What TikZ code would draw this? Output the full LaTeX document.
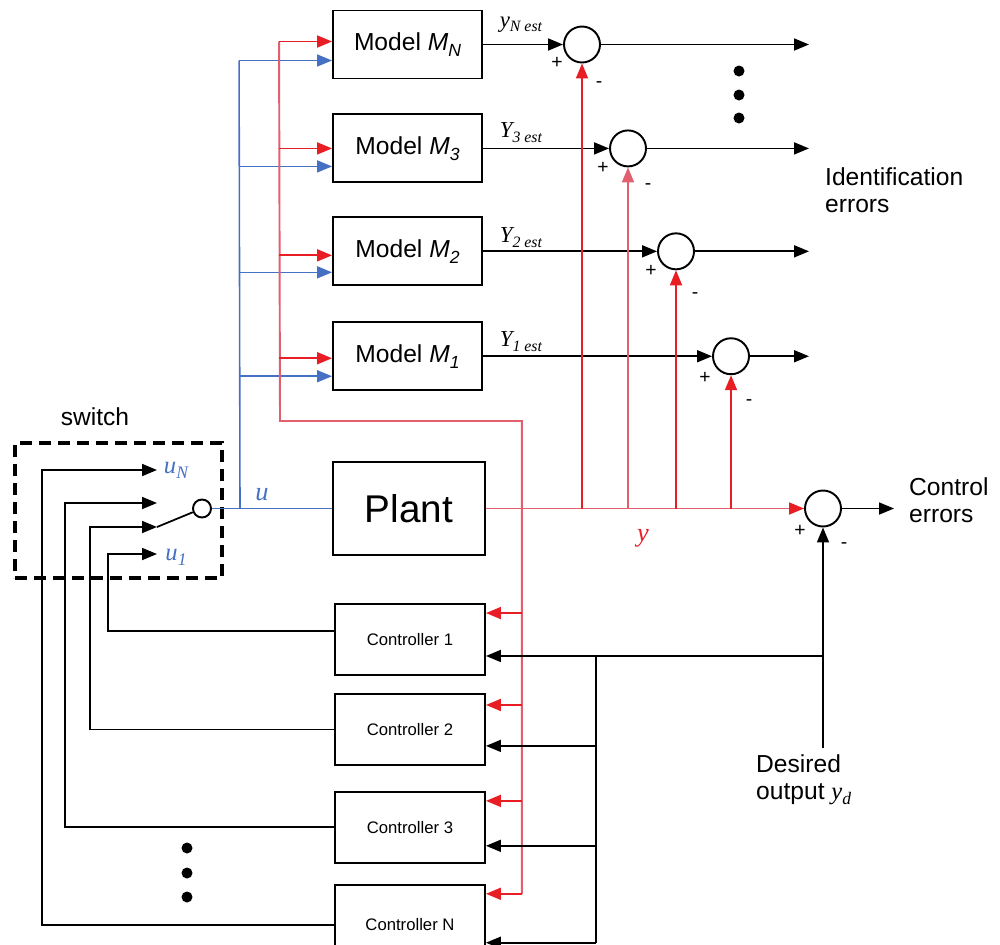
\documentclass[tikz,border=0pt]{standalone}
\usepackage{fontspec}
\setmainfont{Liberation Sans}
\newfontfamily\seriffont{Liberation Serif}
\usepackage{tikz}
\usetikzlibrary{arrows.meta,positioning,calc}
\definecolor{sigred}{RGB}{232,30,36}
\definecolor{sigpink}{RGB}{226,96,110}
\definecolor{sigblue}{RGB}{70,112,196}
\newcommand{\modsub}[2]{\textit{#1}\raisebox{-0.45ex}{\fontsize{10}{10}\selectfont\itshape #2}}
\newcommand{\estsub}[2]{{\seriffont\itshape #1\raisebox{-0.45ex}{\fontsize{9}{9}\selectfont #2 est}}}
\newcommand{\sigsub}[2]{{\seriffont\itshape #1\raisebox{-0.45ex}{\fontsize{10}{10}\selectfont #2}}}

\begin{document}
\begin{tikzpicture}[
            x=0.02cm, y=-0.02cm,
            modelbox/.style={rectangle, draw, line width=1.1pt, minimum width=2.98cm,
                        minimum height=1.36cm, font=\fontsize{14}{16}\selectfont},
            ctrlbox/.style={rectangle, draw, line width=1.1pt, minimum width=3cm,
                        minimum height=1.42cm, font=\fontsize{9.5}{11}\selectfont},
            sumnode/.style={circle, draw, line width=1.1pt, minimum size=0.72cm, inner sep=0pt},
            arrow/.style={-{Triangle[length=0.3cm, width=0.24cm]}, line width=1pt},
            redarrow/.style={arrow, sigred},
            bluearrow/.style={arrow, sigblue, line width=0.9pt},
            redline/.style={sigpink, line width=1.1pt},
            pm/.style={inner sep=0pt, font=\fontsize{11}{12}\selectfont},
            lbl/.style={align=left, font=\fontsize{14}{15.5}\selectfont}
        ]
            \clip (0,0) rectangle (1000,944);

            % Models
            \node[modelbox] (mN) at (407.5,44.5) {Model \modsub{M}{N}};
            \node[modelbox, below=0.68cm of mN] (m3) {Model \modsub{M}{3}};
            \node[modelbox, below=0.66cm of m3] (m2) {Model \modsub{M}{2}};
            \node[modelbox, below=0.7cm of m2] (m1) {Model \modsub{M}{1}};

            % Plant
            \node[modelbox, minimum width=3.04cm, minimum height=1.86cm,
                  font=\fontsize{22}{24}\selectfont] (plant) at (409,508.5) {Plant};

            % Controllers
            \node[ctrlbox] (c1) at (410,639.5) {Controller 1};
            \node[ctrlbox, below=0.34cm of c1] (c2) {Controller 2};
            \node[ctrlbox, below=0.5cm of c2] (c3) {Controller 3};
            \node[ctrlbox, below=0.4cm of c3, minimum height=1.6cm] (cN) {Controller N};

            % Summing junctions
            \node[sumnode] (sN) at (582,0 |- mN) {};
            \node[sumnode] (s3) at (628,0 |- m3) {};
            \node[sumnode] (s2) at (676,0 |- m2) {};
            \node[sumnode] (s1) at (731,0 |- m1) {};
            \node[sumnode] (sc) at (823,0 |- plant) {};

            % Switch
            \node[draw, line width=2.6pt, dash pattern=on 2.4mm off 1.4mm,
                  minimum width=4.14cm, minimum height=2.7cm] (swbox) at (118.5,510.5) {};
            \node[lbl] (swlabel) at (95,417) {switch};
            \node[circle, draw, line width=1.1pt, minimum size=0.36cm, inner sep=0pt] (swc) at (202,0 |- plant) {};
            \coordinate (kN) at (157,470);
            \coordinate (k3) at (157,503);
            \coordinate (k2) at (157,527);
            \coordinate (k1) at (157,554);
            \draw[line width=1pt] (k2) -- (swc.202);
            \node[sigblue, font=\fontsize{14}{15}\selectfont] (uNlbl) at (176,470) {\sigsub{u}{N}};
            \node[sigblue, font=\fontsize{14}{15}\selectfont] (u1lbl) at (176,557) {\sigsub{u}{1}};

            % Texts
            \node[lbl, anchor=west] (iderr) at (819,190) {Identification\\errors};
            \node[lbl, anchor=west] (cerr) at (903,500) {Control\\errors};
            \node[lbl, anchor=north west] (ydtxt) at (750,748) {Desired\\output \sigsub{y}{d}};
            \node[sigblue, font=\fontsize{15}{16}\selectfont] (ulbl) at (262,495) {\seriffont\itshape u};
            \node[sigred, font=\fontsize{15}{16}\selectfont] (ylbl) at (643,538) {\seriffont\itshape y};
            \node[font=\fontsize{13}{14}\selectfont] (lN) at ($(mN.east)+(38,-20)$) {\estsub{y}{N}};
            \node[font=\fontsize{13}{14}\selectfont] (l3) at ($(m3.east)+(38,-16)$) {\estsub{Y}{3}};
            \node[font=\fontsize{13}{14}\selectfont] (l2) at ($(m2.east)+(38,-14)$) {\estsub{Y}{2}};
            \node[font=\fontsize{13}{14}\selectfont] (l1) at ($(m1.east)+(38,-15)$) {\estsub{Y}{1}};

            % Signs
            \node[pm] (pN) at ($(sN)+(-25,18)$) {+};
            \node[pm] (nN) at ($(sN)+(17,40)$) {-};
            \node[pm] (p3) at ($(s3)+(-25,20)$) {+};
            \node[pm] (n3) at ($(s3)+(20,38)$) {-};
            \node[pm] (p2) at ($(s2)+(-25,20)$) {+};
            \node[pm] (n2) at ($(s2)+(19,44)$) {-};
            \node[pm] (p1) at ($(s1)+(-26,22)$) {+};
            \node[pm] (n1) at ($(s1)+(18,46)$) {-};
            \node[pm] (pc) at ($(sc)+(-23,22)$) {+};
            \node[pm] (nc) at ($(sc)+(21,37)$) {-};

            % Model outputs
            \coordinate (idx) at (809,150);
            \draw[arrow] (mN.east) -- (sN.west);
            \draw[arrow] (m3.east) -- (s3.west);
            \draw[arrow] (m2.east) -- (s2.west);
            \draw[arrow] (m1.east) -- (s1.west);
            \draw[arrow] (sN.east) -- (sN.east -| idx);
            \draw[arrow] (s3.east) -- (s3.east -| idx);
            \draw[arrow] (s2.east) -- (s2.east -| idx);
            \draw[arrow] (s1.east) -- (s1.east -| idx);
            \draw[arrow, shorten >=0.18cm] (sc.east) -- (sc.east -| cerr.west);

            % Plant output y
            \draw[redline] (plant.east) -- (sc.west);
            \draw[redarrow] ($(sc.west)+(-14,0)$) -- (sc.west);
            \draw[redarrow] (plant.east -| sN) -- (sN.south);
            \draw[redarrow, sigpink] (plant.east -| s3) -- (s3.south);
            \draw[redarrow] (plant.east -| s2) -- (s2.south);
            \draw[redarrow] (plant.east -| s1) -- (s1.south);

            % Control signal u
            \coordinate (ubus) at (240,0 |- plant);
            \draw[sigblue, line width=0.9pt] (swc.east) -- (plant.west);
            \draw[sigblue, line width=0.9pt] (ubus) -- ([xshift=-1.86cm, yshift=-0.32cm]mN.west);
            \draw[bluearrow] ([xshift=-1.86cm, yshift=-0.32cm]mN.west) -- ([yshift=-0.32cm]mN.west);
            \draw[bluearrow] ([xshift=-1.86cm, yshift=-0.36cm]m3.west) -- ([yshift=-0.36cm]m3.west);
            \draw[bluearrow] ([xshift=-1.86cm, yshift=-0.42cm]m2.west) -- ([yshift=-0.42cm]m2.west);
            \draw[bluearrow] ([xshift=-1.86cm, yshift=-0.4cm]m1.west) -- ([yshift=-0.4cm]m1.west);

            % Measured output to models and controllers
            \coordinate (rN) at ([xshift=-1.06cm, yshift=0.06cm]mN.west);
            \coordinate (rcorner) at (280,421);
            \coordinate (rb1) at ([xshift=0.72cm, yshift=-0.2cm]c1.north east);
            \coordinate (rb2) at ([xshift=0.72cm, yshift=-0.24cm]c2.north east);
            \coordinate (rb3) at ([xshift=0.72cm, yshift=-0.2cm]c3.north east);
            \coordinate (rbN) at ([xshift=0.72cm, yshift=-0.2cm]cN.north east);
            \draw[redline] (rN) -- (rcorner) -| (rbN);
            \draw[redarrow] (rN) -- ([yshift=0.06cm]mN.west);
            \draw[redarrow] ([xshift=-1.06cm]m3.west) -- (m3.west);
            \draw[redarrow] ([xshift=-1.06cm, yshift=-0.08cm]m2.west) -- ([yshift=-0.08cm]m2.west);
            \draw[redarrow] ([xshift=-1.06cm, yshift=-0.04cm]m1.west) -- ([yshift=-0.04cm]m1.west);
            \draw[redarrow] (rb1) -- ([yshift=-0.2cm]c1.north east);
            \draw[redarrow] (rb2) -- ([yshift=-0.24cm]c2.north east);
            \draw[redarrow] (rb3) -- ([yshift=-0.2cm]c3.north east);
            \draw[redarrow] (rbN) -- ([yshift=-0.2cm]cN.north east);

            % Desired output
            \coordinate (bus1) at ([xshift=2.2cm, yshift=0.4cm]c1.south east);
            \coordinate (bus2) at ([xshift=2.2cm, yshift=0.4cm]c2.south east);
            \coordinate (bus3) at ([xshift=2.2cm, yshift=0.36cm]c3.south east);
            \coordinate (busN) at ([xshift=2.2cm, yshift=0.46cm]cN.south east);
            \draw[arrow] (ydtxt.north -| sc) -- (sc.south);
            \draw[line width=1pt] (sc |- bus1) -- (bus1) -- (busN);
            \draw[arrow] (bus1) -- ([yshift=0.4cm]c1.south east);
            \draw[arrow] (bus2) -- ([yshift=0.4cm]c2.south east);
            \draw[arrow] (bus3) -- ([yshift=0.36cm]c3.south east);
            \draw[arrow] (busN) -- ([yshift=0.46cm]cN.south east);

            % Controller outputs to switch
            \draw[arrow] ([yshift=0.17cm]c1.west) -| ($(k1)+(-49,0)$) -- (k1);
            \draw[arrow] (c2.west) -| ($(k2)+(-67,0)$) -- (k2);
            \draw[arrow] (c3.west) -| ($(k3)+(-92,0)$) -- (k3);
            \draw[arrow] (cN.west) -| ($(kN)+(-115,0)$) -- (kN);

            % Dots
            \fill (739,71) circle (0.11cm);
            \fill (739,95) circle (0.11cm);
            \fill (739,118) circle (0.11cm);
            \fill (187,848) circle (0.11cm);
            \fill (187,873) circle (0.11cm);
            \fill (187,897) circle (0.11cm);
        \end{tikzpicture}
\end{document}
